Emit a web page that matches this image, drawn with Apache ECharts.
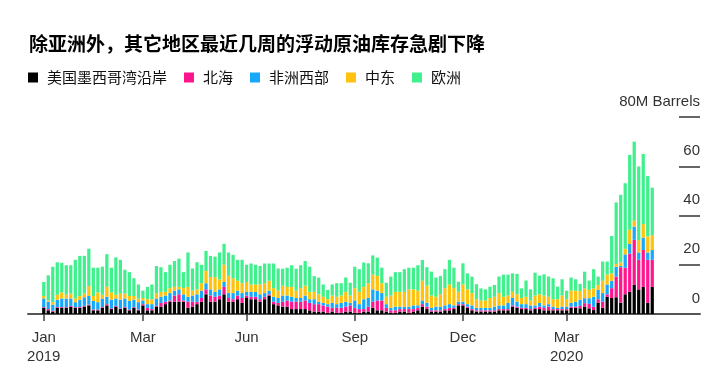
<!DOCTYPE html>
<html><head><meta charset="utf-8">
<script src="https://cdn.jsdelivr.net/npm/echarts@6/dist/echarts.min.js"></script>
<style>html,body{margin:0;padding:0;background:#fff}#c{width:720px;height:375px}</style>
</head><body><div id="c"></div>
<script>
const titleText = '除亚洲外，其它地区最近几周的浮动原油库存急剧下降';
const seriesNames = ['美国墨西哥湾沿岸', '北海', '非洲西部', '中东', '欧洲'];
const categories = Array.from({length: 136}, (_, i) => 'P' + i);
const tickIdx = [0, 22, 45, 69, 93, 116];
const tickLabels = ['Jan\n2019', 'Mar', 'Jun', 'Sep', 'Dec', 'Mar\n2020'];
const yTicks = [0, 20, 40, 60, 80];

const usGulf = [2.5,1.5,1,2.5,2.5,2.5,3,2.5,2.5,3, 3.5,1.5,1.5,2.5,3.5,2,3,2,2.5,1.5, 2.5,1.5,3.5,1.5,1.5,3,3,4,5,5, 5,5,2.5,3,4,5,8,5,5,6, 8,5,5,6,4.5,6.5,6,6,5,6, 7.5,4,3.5,3,3,2,2,2,2,1.5, 1,1,1,0.5,1,0.5,0.5,1,1,0.5, 0.5,1,1,2.5,1.5,1.5,1,0.5,0.5,1, 1,0.5,1,1.5,3,2,1,1,1,1.5, 1.5,2,3.5,3.5,2.5,1.5,1,1,1,1, 1,1.5,1.5,1.5,3,2.5,2,2,1.5,2, 2,1.5,1.5,1.5,1.5,1.5,1.5,2.5,2.5,2.3, 3,2.3,1.6,4.6,2.5,7,6.5,6.8,4.6,8, 9,11.8,10,11,4.5,11];
const northSea = [0.3,0.5,0.3,0.3,0.3,0.3,0.3,0.3,0.3,0.3, 0.3,0.3,0.3,0.3,0.5,0.3,0.3,0.3,0.3,0.3, 0.3,0.3,0.5,1,0.5,0.3,1.5,1,0.5,2.5, 3,0.5,2.5,2,1,1.5,2,2.5,2,1.5, 3,1.5,1,1.5,2,1,1,1,1,1, 0.5,1,1,2,2.5,3,3,3,3.5,3, 3,3,2.5,2.5,1.5,2,2,2,2.5,2, 1.5,1,2,2.5,4,4,1.5,1,1,1, 1,1.5,1,1,1,1,0.5,0.5,0.5,0.5, 1,0.5,0.5,0.5,0.5,0.5,0.5,0.5,0.5,0.5, 0.5,0.5,0.5,0.5,0.5,0.5,0.5,0.5,0.5,0.5, 1,1,1.5,0.5,0.5,0.5,0.5,0.5,0.5,1, 1.4,1.8,1.4,1.4,2.5,1,4,8.4,14.4,10.8, 15.5,18.3,12,15,17.5,11];
const westAfrica = [3.5,3,2.5,3,3.5,3.5,3,2,3,3.5, 3.5,3.5,3,3.5,3,3.5,3,3.5,3.5,3.5, 3,3,1.5,1.5,2,3,2.5,2.5,3,2, 2,2.5,2,2.5,3,3,2.5,2.5,2,2.5, 2,2,2.5,2,2,1.5,2,2,2,1.5, 1.5,2,2,2.5,2,2,1.5,1.5,2,1.5, 2,1,1,1,2,1.5,2,2,1,3, 2,4,3.5,5,4,3,1.5,1,1.5,1, 1,1,1.5,1,1.5,1.5,1,1.5,1.5,1.5, 1.5,1,1,1,1,1.5,1,1,1,1, 1.5,1.5,1.5,2.5,3,2,1.5,1.5,1.5,1, 1.5,1,1,1,0.5,1,1,1.5,2,2.5, 2,2.3,4,3.8,3.5,4,3,4,0.5,5.4, 4,5.4,3,5,3,4];
const middleEast = [1,0.5,1,2,2.5,1.5,2,1.5,1.5,1.5, 4,2,4,1.5,4,3,1.5,2.5,2,2, 1.5,1.5,1,2,2,2,2,1.5,2,1.5, 1,2.5,4,2,2,3,5,5,6,4, 7,7,6,4,4,4,3,3,4,4, 4,3.5,3,4,3.5,4,3,4,4,3, 3,3,2.5,2,3,3,3,4,3,5, 5,5,6,6,6,4,3,5,6,6, 6,7,6.5,6,8,7,5,4,5,7, 8,7,4,7,6,5,3.5,3,3,4, 4,5,3.5,3,2.5,3,2.5,3,2,4, 3.5,4,3,3,3.5,4.5,3,5,4.5,3.5, 4,3.4,3.4,2,5,4,3,1.1,1.4,2.3, 5.7,2.4,5,5.5,6.5,6];
const europe = [5.7,10.2,14.4,13.2,12,12,11.5,15.7,16.3,15.3, 15.2,11.5,10,11.4,13.3,10,15.2,13.7,9.7,9.7, 7.2,5.7,3,5,6,11.2,10,8,9.5,10.5, 11.5,6.5,14,9,11,7.5,8.1,8.6,8.3,11, 8.5,9.5,9.5,8.5,9.5,7,8.5,8,7.5,8, 7,10,9,6.9,7.8,8.8,8.9,9.3,10,10.2, 6.4,6.8,5,3.8,4.5,5.5,5,5.8,5.2,8.7, 9.2,9.9,8.1,7.8,7.4,6.3,5.7,7.7,8,8, 9.2,8.8,8.8,10.3,8.4,7.5,9.7,7.8,7.4,7.7, 10,8.3,4.1,8.6,6.5,6.7,6.1,4.9,4.5,4.6, 4.8,6.7,9,8.5,7.5,8.3,3.9,6.6,4.5,9.3, 7.6,8.6,8.2,8.5,5.1,6.6,3.5,5.3,4.6,2.9, 6.8,3.8,7.8,3.4,7.8,5.3,15.2,25,27.5,26.6, 30.4,32.1,29.9,28.5,24.5,19.3];

const seriesData = [usGulf, northSea, westAfrica, middleEast, europe];
const colors = ['#000000', '#ff168e', '#18a8fb', '#ffc20e', '#3ff08c'];
const cjk = '"Noto Sans CJK SC", sans-serif';
const latin = '"Liberation Sans", Arial, sans-serif';

const chart = echarts.init(document.getElementById('c'), null, {renderer: 'canvas'});
chart.setOption({
  animation: false,
  backgroundColor: '#ffffff',
  title: {
    text: titleText, left: 29, top: 34, padding: 0,
    textStyle: {fontFamily: cjk, fontSize: 19, fontWeight: 'bold', color: '#000'}
  },
  legend: {
    data: seriesNames, left: 28, top: 70, padding: 0,
    icon: 'rect', itemWidth: 10, itemHeight: 10, itemGap: 17,
    selectedMode: false,
    textStyle: {fontFamily: cjk, fontSize: 15, color: '#111', padding: [0, 0, 0, 4]}
  },
  grid: [
    {left: 41.5, right: 65.5, top: 117, bottom: 61},
    {left: 28, right: 20, top: 117, bottom: 61},
    {left: 679, right: 20, top: 117, bottom: 61}
  ],
  xAxis: [
    {
      type: 'category', gridIndex: 0, data: categories,
      axisLine: {show: false},
      axisTick: {show: true, alignWithLabel: true, length: 7,
        interval: (i) => tickIdx.includes(i),
        lineStyle: {color: '#444', width: 1.5}},
      axisLabel: {show: true, interval: (i) => tickIdx.includes(i),
        formatter: (v, i) => tickLabels[tickIdx.indexOf(i)] || '',
        fontFamily: latin, fontSize: 15, lineHeight: 19, color: '#333', margin: 14}
    },
    {
      type: 'value', gridIndex: 1, min: 0, max: 1,
      axisLine: {show: true, onZero: false, lineStyle: {color: '#555', width: 2}},
      axisTick: {show: false}, axisLabel: {show: false}, splitLine: {show: false}
    },
    {
      type: 'value', gridIndex: 2, min: 0, max: 1, show: false
    }
  ],
  yAxis: [
    {type: 'value', gridIndex: 0, min: 0, max: 80, show: false},
    {type: 'value', gridIndex: 1, min: 0, max: 80, show: false},
    {
      type: 'value', gridIndex: 2, position: 'right', min: 0, max: 80, interval: 20,
      axisLine: {show: false},
      axisTick: {show: false},
      splitLine: {show: true, lineStyle: {color: '#333', width: 1.5}},
      axisLabel: {show: true, inside: true, margin: 0,
        formatter: (v) => v === 80 ? '80M Barrels' : String(v),
        fontFamily: latin, fontSize: 15, color: '#333',
        verticalAlign: 'bottom', padding: [0, 0, 8, 0]}
    }
  ],
  series: seriesNames.map((name, k) => ({
    name: name, type: 'bar', stack: 'total',
    xAxisIndex: 0, yAxisIndex: 0,
    barCategoryGap: '28%',
    data: seriesData[k],
    itemStyle: {color: colors[k]},
    emphasis: {disabled: true}
  }))
});
</script></body></html>
